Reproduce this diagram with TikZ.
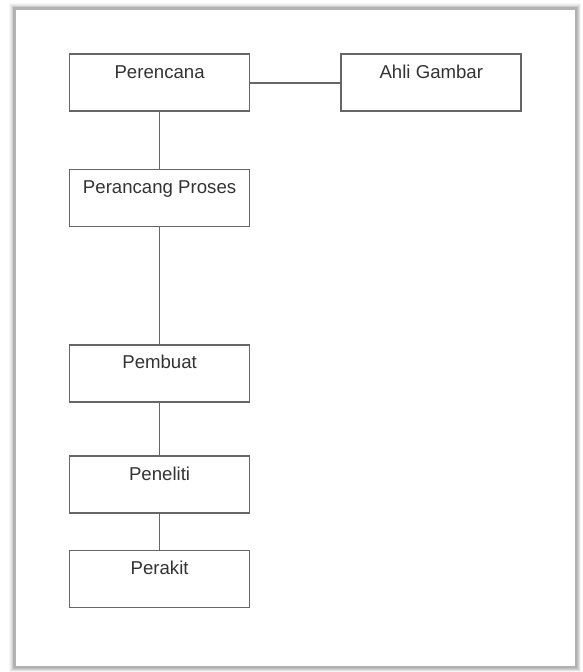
\documentclass[tikz,border=0pt]{standalone}
\usepackage{fontspec}
\setmainfont{Liberation Sans}
\usetikzlibrary{positioning}
\tikzstyle{jabatan} = [draw=black!60,line width=1pt,fill=white,minimum width=3.6cm,inner xsep=0pt,inner ysep=0pt,text height=0.48cm,text depth=0.66cm,text=black!80,font=\fontsize{10.6}{12}\selectfont]
\tikzstyle{garis} = [draw=black!60,line width=1pt]

\begin{document}
\begin{tikzpicture}[x=0.02cm,y=-0.02cm]
	\useasboundingbox (0,0) rectangle (582,672);
	\fill[white] (0,0) rectangle (582,672);
	%Frame
	\foreach \s/\o in {6/0.03,5/0.04,4/0.05,3/0.07,2/0.09,1/0.12}
		\draw[black,opacity=\o,line width=\s pt] (14.5,8.5) rectangle (576,667);
	\draw[gray!60,line width=1.2pt,fill=white] (14.5,8.5) rectangle (576,667);

	%Nodes
	\node[jabatan] at (159.6,53.3) [anchor=north] (perencana) {Perencana};
	\node[jabatan, right=1.8cm of perencana] (ahli) {Ahli Gambar};
	\node[jabatan, below=1.13cm of perencana] (perancang) {Perancang Proses};
	\node[jabatan, below=2.33cm of perancang] (pembuat) {Pembuat};
	\node[jabatan, below=1.06cm of pembuat] (peneliti) {Peneliti};
	\node[jabatan, below=0.71cm of peneliti] (perakit) {Perakit};

	%Lines
	\draw[garis] (perencana) -- (ahli);
	\draw[garis] (perencana) -- (perancang);
	\draw[garis] (perancang) -- (pembuat);
	\draw[garis] (pembuat) -- (peneliti);
	\draw[garis] (peneliti) -- (perakit);
\end{tikzpicture}
\end{document}
